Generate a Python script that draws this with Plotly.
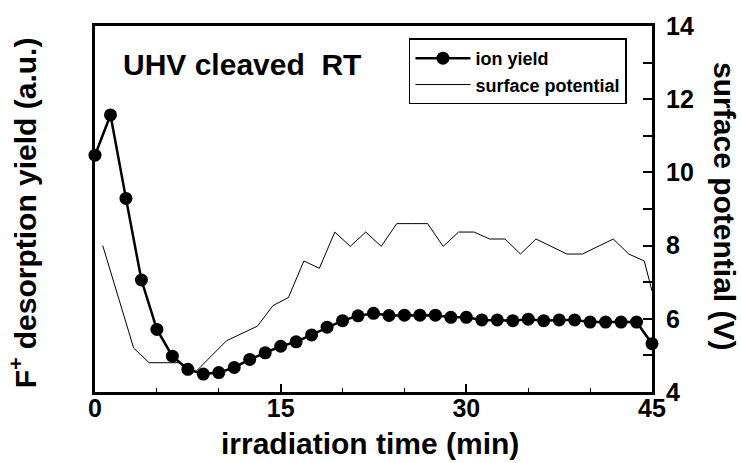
import plotly.graph_objects as go

# ---- data ----
ion_time = [0, 1.25, 2.5, 3.75, 5, 6.25, 7.5, 8.75, 10, 11.25, 12.5, 13.75, 15, 16.25,
            17.5, 18.75, 20, 21.25, 22.5, 23.75, 25, 26.25, 27.5, 28.75, 30, 31.25,
            32.5, 33.75, 35, 36.25, 37.5, 38.75, 40, 41.25, 42.5, 43.75, 45]
ion_yield = [10.47, 11.57, 9.29, 7.06, 5.71, 4.98, 4.62, 4.49, 4.53, 4.67, 4.89, 5.07,
             5.25, 5.37, 5.56, 5.77, 5.95, 6.08, 6.15, 6.09, 6.10, 6.10, 6.10, 6.04,
             6.04, 5.97, 5.97, 5.95, 5.99, 5.95, 5.97, 5.97, 5.91, 5.91, 5.91, 5.91, 5.32]

sp_time = [0.625, 3.125, 4.375, 5.625, 6.875, 8.125, 10.625, 13.125, 14.375, 15.625,
           16.875, 18.125, 19.375, 20.625, 21.875, 23.125, 24.375, 25.625, 26.875,
           28.125, 29.375, 30.625, 31.875, 33.125, 34.375, 35.625, 36.875, 38.125,
           39.375, 40.625, 41.875, 43.125, 44.375, 45]
surface_potential = [8.0, 5.2, 4.8, 4.8, 4.8, 4.55, 5.4, 5.8, 6.36, 6.58, 7.58, 7.38,
                     8.37, 7.98, 8.37, 7.98, 8.6, 8.6, 8.6, 7.98, 8.37, 8.37, 8.18,
                     8.18, 7.77, 8.18, 7.98, 7.77, 7.77, 7.98, 8.18, 7.77, 7.58, 6.76]

x_ticks = [0, 15, 30, 45]
y2_ticks = [4, 6, 8, 10, 12, 14]

FONT = "Liberation Sans"

fig = go.Figure()
fig.add_trace(go.Scatter(
    x=ion_time, y=ion_yield, name="<b>ion yield</b>", mode="lines+markers",
    line=dict(color="black", width=2.5),
    marker=dict(color="black", size=13),
    cliponaxis=False, yaxis="y"))
fig.add_trace(go.Scatter(
    x=sp_time, y=surface_potential, name="<b>surface potential</b>", mode="lines",
    line=dict(color="black", width=1),
    cliponaxis=False, yaxis="y2"))

fig.update_layout(
    width=741, height=463,
    margin=dict(l=95, r=89, t=23, b=71),
    paper_bgcolor="white", plot_bgcolor="white",
    showlegend=True,
    legend=dict(x=0.5637, y=0.966, xanchor="left", yanchor="top",
                bordercolor="black", borderwidth=1.5, bgcolor="white",
                font=dict(family=FONT, size=18, color="black", weight="bold"),
                tracegroupgap=0, itemwidth=55),
    xaxis=dict(range=[0, 45], tickvals=x_ticks, ticktext=[str(v) for v in x_ticks],
               showline=True, linecolor="black", linewidth=2.5, mirror=True,
               ticks="inside", ticklen=8, tickwidth=1.5, tickcolor="black",
               minor=dict(dtick=5, ticks="inside", ticklen=4, tickwidth=1.2, tickcolor="black"),
               showgrid=False, zeroline=False, ticklabelstandoff=-8,
               tickfont=dict(family=FONT, size=25, color="black", weight="bold")),
    yaxis=dict(range=[4, 14], showline=True, linecolor="black", linewidth=2.5, mirror=True,
               showticklabels=False, ticks="", showgrid=False, zeroline=False),
    yaxis2=dict(range=[4, 14], overlaying="y", side="right",
                tickvals=y2_ticks, ticktext=[str(v) for v in y2_ticks],
                showline=False, ticks="inside", ticklen=9, tickwidth=1.5, tickcolor="black",
                minor=dict(dtick=1, ticks="inside", ticklen=9, tickwidth=1.5, tickcolor="black"),
                showgrid=False, zeroline=False, ticklabelstandoff=13,
                tickfont=dict(family=FONT, size=25, color="black", weight="bold")),
)

fig.add_annotation(text="UHV cleaved\u00a0 RT", xref="paper", yref="paper",
                   x=0.0467, y=0.894, xanchor="left", yanchor="middle", showarrow=False,
                   font=dict(family=FONT, size=30, color="black", weight="bold"))
fig.add_annotation(text="F<sup>+</sup> desorption yield (a.u.)", xref="paper", yref="paper",
                   x=-0.128, y=0.4905, xanchor="center", yanchor="middle", showarrow=False,
                   textangle=-90,
                   font=dict(family=FONT, size=30, color="black", weight="bold"))
fig.add_annotation(text="surface potential (V)", xref="paper", yref="paper",
                   x=1.131, y=0.508, xanchor="center", yanchor="middle", showarrow=False,
                   textangle=90,
                   font=dict(family=FONT, size=30, color="black", weight="bold"))
fig.add_annotation(text="irradiation time (min)", xref="paper", yref="paper",
                   x=0.4937, y=-0.142, xanchor="center", yanchor="middle", showarrow=False,
                   font=dict(family=FONT, size=30, color="black", weight="bold"))

fig.write_html("out.html")
